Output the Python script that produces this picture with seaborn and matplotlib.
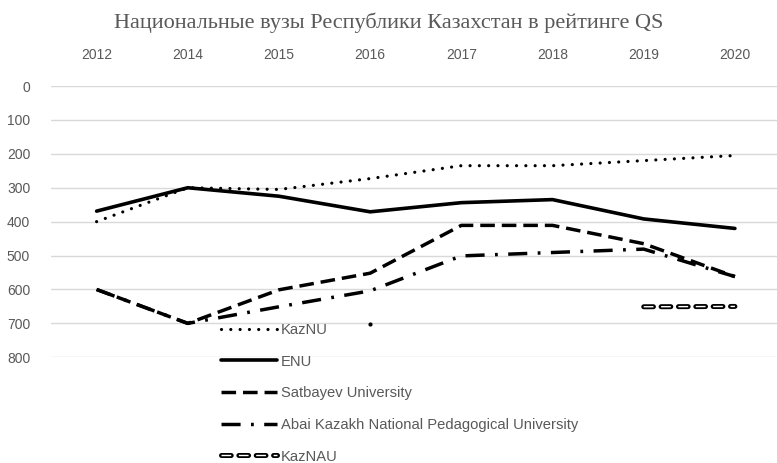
import numpy as np
import pandas as pd
import seaborn as sns
import matplotlib.pyplot as plt
import matplotlib.patheffects as pe

# Data (QS rank, lower = better)
years = ["2012", "2014", "2015", "2016", "2017", "2018", "2019", "2020"]
kaznu = [400, 300, 305, 273, 235, 235, 220, 205]
enu = [369, 300, 325, 371, 344, 335, 392, 420]
satbayev = [600, 700, 601, 552, 411, 411, 465, 562]
abai = [600, 700, 651, 604, 501, 491, 481, 562]
kaznau = [np.nan, np.nan, np.nan, 701, np.nan, np.nan, 651, 650]

title = "Национальные вузы Республики Казахстан в рейтинге QS"
grey = "#595959"

sns.set_style("white")
plt.rcParams["font.family"] = ["Liberation Sans", "DejaVu Sans"]

fig = plt.figure(figsize=(7.77, 4.63), dpi=100)
ax = fig.add_axes([51 / 777, 1 - 357.3 / 463, 729.5 / 777, (357.3 - 86) / 463])

sns.lineplot(x=years, y=kaznu, ax=ax, color="black", lw=2.3, label="KazNU",
             linestyle=(0, (0.01, 2.9)), dash_capstyle="round")
sns.lineplot(x=years, y=enu, ax=ax, color="black", lw=2.6, label="ENU")
sns.lineplot(x=years, y=satbayev, ax=ax, color="black", lw=2.5, label="Satbayev University",
             linestyle=(0, (4.2, 2)))
sns.lineplot(x=years, y=abai, ax=ax, color="black", lw=2.5,
             label="Abai Kazakh National Pedagogical University",
             linestyle=(0, (5.5, 3, 0.8, 3)))
# KazNAU has gaps, so draw it straight through matplotlib to keep them
ax.plot(years, kaznau, color="white", lw=1.0, linestyle=(0, (7, 5.5)), label="KazNAU",
        path_effects=[pe.Stroke(linewidth=3.6, foreground="black", capstyle="round"),
                      pe.Normal()])
ax.plot(years[3], kaznau[3], marker="o", ms=2, color="black", lw=0)

ax.set_xlim(-0.5, 7.5)
ax.set_ylim(800, 0)
ax.set_yticks(range(0, 801, 100))
ax.yaxis.grid(True, color="#d9d9d9", lw=1)
ax.xaxis.grid(False)
ax.xaxis.tick_top()
for s in ax.spines.values():
    s.set_visible(False)
ax.tick_params(axis="x", length=0, pad=17, labelsize=10, labelcolor=grey)
ax.tick_params(axis="y", length=0, pad=15, labelsize=10, labelcolor=grey)
ax.set_xlabel("")
ax.set_ylabel("")

leg = ax.legend(loc="upper left", bbox_to_anchor=(214 / 777, 1 - 315.5 / 463),
                bbox_transform=fig.transFigure, frameon=False, fontsize=10.6,
                handlelength=3.75, handletextpad=0.27, labelspacing=1.2, borderpad=0)
for t in leg.get_texts():
    t.set_color(grey)

fig.text(0.5, 1 - 23 / 463, title, ha="center", va="center", fontsize=16,
         color=grey, family="Liberation Serif")

fig.savefig("out.png", dpi=100)
